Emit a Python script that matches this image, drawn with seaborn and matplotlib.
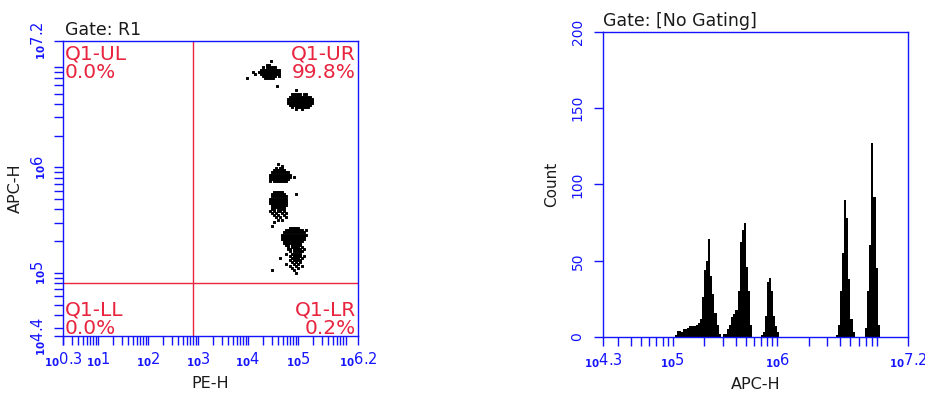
import numpy as np
import pandas as pd
import seaborn as sns
import matplotlib
matplotlib.use("Agg")
import matplotlib.pyplot as plt
from matplotlib.ticker import FixedLocator, FixedFormatter, LogLocator, NullFormatter

sns.set_theme(style="white")
plt.rcParams["font.family"] = ["DejaVu Sans"]
plt.rcParams["mathtext.fontset"] = "dejavusans"

BLUE = "#1414ff"
RED = "#e8243f"
TXT = "#1a1a1a"

# ---------------- axis data ----------------
pe_limits_log = (0.3, 6.2)
apc_limits_log = (4.4, 7.2)
hist_limits_log = (4.337, 7.247)

pe_tick_logs = [0.3, 1, 2, 3, 4, 5, 6.2]
pe_tick_labels = ["0.3", "1", "2", "3", "4", "5", "6.2"]
apc_tick_logs = [4.4, 5, 6, 7.2]
apc_tick_labels = ["4.4", "5", "6", "7.2"]
hist_tick_logs = [4.337, 5, 6, 7.247]
hist_tick_labels = ["4.3", "5", "6", "7.2"]
count_ticks = [0, 50, 100, 150, 200]

# ---------------- quadrant gate ----------------
gate_pe_log = 2.9
gate_apc_log = 4.9
quadrant_names = ["Q1-UL", "Q1-UR", "Q1-LL", "Q1-LR"]
quadrant_percents = ["0.0%", "99.8%", "0.0%", "0.2%"]

# ---------------- dot-plot events (each '#' = one event) ----------------
# columns step 0.04 decades of PE-H, rows step 0.02 decades of APC-H downward
cell_pe = 0.04
cell_apc = 0.02

cluster1_origin = (3.98, 7.009)
cluster1_map = [
    "............#....",
    ".................",
    "..........##.....",
    "........#.#####..",
    ".......##########",
    "...#..###########",
    "....#..##########",
    "........#######.#",
    "#........#####...",
    ".................",
    ".................",
    ".................",
    "...............#.",
]

cluster2_origin = (4.76, 6.753)
cluster2_map = [
    "..............",
    ".....#........",
    "..............",
    "...#####.##...",
    "..###########.",
    ".#############",
    ".#############",
    ".#############",
    "..###########.",
    "...#.#######..",
    ".....#..#.....",
]

cluster3_origin = (4.40, 6.032)
cluster3_map = [
    ".....#........",
    ".......#......",
    "....#.##......",
    "...######.....",
    "..#########...",
    ".###########..",
    ".###########.#",
    ".##########...",
    ".#.#######....",
]

cluster4_origin = (4.40, 5.785)
cluster4_map = [
    "...............",
    "...#####.......",
    "..#######.....#",
    "..########.....",
    ".#########.....",
    ".#########.....",
    ".#########.....",
    "..########.....",
    "..#######......",
    "..##.####......",
    ".#.#.##.#......",
    "..#.#..#.#.....",
    "...#.#..#......",
    "....#.#..#.....",
    ".....#.#.......",
    "...#...........",
    "...............",
    "..#............",
]

cluster5_origin = (4.40, 5.4626)
cluster5_map = [
    ".....................",
    ".....................",
    "...........#####.....",
    ".........#########.#.",
    "........###########..",
    ".......#############.",
    ".......############..",
    ".......############..",
    "........##########...",
    "........#########....",
    ".........##.#####....",
    "..........#.####.#...",
    "..........##.####.#..",
    "...........#.#####...",
    ".........#..#####....",
    "...........#.####.#..",
    "......#.....####.#...",
    "...........#.####....",
    "............#.#.#....",
    ".........#...#.#.....",
    "...........#..#..#...",
    "............#..#.....",
    "..#..........#.......",
    "..............#......",
]

clusters = [
    (cluster1_origin, cluster1_map),
    (cluster2_origin, cluster2_map),
    (cluster3_origin, cluster3_map),
    (cluster4_origin, cluster4_map),
    (cluster5_origin, cluster5_map),
]

# ---------------- APC-H histogram (counts per 0.02-decade bin) ----------------
hist_bin_start_log = 4.34
hist_bin_end_log = 7.24
hist_bin_width_log = 0.02
peak1_start_log = 5.02
peak1_counts = [1, 4, 4, 3, 5, 5, 6, 7, 7, 7, 8, 9, 12, 26, 44, 50, 64, 40, 28, 16, 8, 2]
peak2_start_log = 5.48
peak2_counts = [2, 2, 5, 8, 13, 15, 18, 30, 62, 70, 75, 46, 30, 8]
peak3_start_log = 5.84
peak3_counts = [1, 3, 14, 36, 39, 30, 14, 7, 3]
peak4_start_log = 6.56
peak4_counts = [1, 8, 30, 55, 90, 78, 38, 12, 3]
peak5_start_log = 6.84
peak5_counts = [6, 30, 60, 127, 92, 45, 8]
peaks = [
    (peak1_start_log, peak1_counts),
    (peak2_start_log, peak2_counts),
    (peak3_start_log, peak3_counts),
    (peak4_start_log, peak4_counts),
    (peak5_start_log, peak5_counts),
]

# ---------------- build tables ----------------
pe_vals, apc_vals = [], []
for (ox, oy), rows in clusters:
    for r, row in enumerate(rows):
        for c, ch in enumerate(row):
            if ch == "#":
                pe_vals.append(10 ** (ox + c * cell_pe))
                apc_vals.append(10 ** (oy - r * cell_apc))
events = pd.DataFrame({"PE-H": pe_vals, "APC-H": apc_vals})

h_x, h_w = [], []
for start, counts in peaks:
    for i, cnt in enumerate(counts):
        h_x.append(10 ** (start + (i + 0.5) * hist_bin_width_log))
        h_w.append(cnt)
hist_df = pd.DataFrame({"APC-H": h_x, "Count": h_w})

# ---------------- figure ----------------
fig = plt.figure(figsize=(9.25, 3.94), dpi=100)
ax1 = fig.add_axes([63 / 925, 1 - 336 / 394, 295 / 925, 295 / 394])
ax2 = fig.add_axes([603.3 / 925, 1 - 337 / 394, 304.4 / 925, 305 / 394])

sns.scatterplot(data=events, x="PE-H", y="APC-H", ax=ax1, marker="s", s=4.4,
                color="black", linewidth=0, legend=False, snap=False)
ax1.set_xscale("log")
ax1.set_yscale("log")
ax1.set_xlim(10 ** pe_limits_log[0], 10 ** pe_limits_log[1])
ax1.set_ylim(10 ** apc_limits_log[0], 10 ** apc_limits_log[1])

sns.histplot(data=hist_df, x="APC-H", weights="Count", log_scale=True,
             binwidth=hist_bin_width_log,
             binrange=(hist_bin_start_log, hist_bin_end_log),
             color="black", alpha=1, linewidth=0, element="bars", ax=ax2)
ax2.set_xlim(10 ** hist_limits_log[0], 10 ** hist_limits_log[1])
ax2.set_ylim(count_ticks[0], count_ticks[-1])


def sub10(e):
    return r"$_{\mathbf{10}}$" + e


for ax in (ax1, ax2):
    ax.set_facecolor("white")
    for sp in ax.spines.values():
        sp.set_color(BLUE)
        sp.set_linewidth(1.0)
    ax.tick_params(which="both", direction="out", color=BLUE, labelcolor=BLUE,
                   width=1, length=6.5, bottom=True, left=True, top=False,
                   right=False, labelsize=10.5)
    ax.xaxis.set_minor_locator(LogLocator(base=10, subs=np.arange(2, 10), numticks=100))
    ax.xaxis.set_minor_formatter(NullFormatter())

# left plot ticks
ax1.xaxis.set_major_locator(FixedLocator([10 ** v for v in pe_tick_logs]))
ax1.xaxis.set_major_formatter(FixedFormatter([sub10(t) for t in pe_tick_labels]))
ax1.yaxis.set_major_locator(FixedLocator([10 ** v for v in apc_tick_logs]))
ax1.yaxis.set_major_formatter(FixedFormatter([sub10(t) for t in apc_tick_labels]))
ax1.yaxis.set_minor_locator(LogLocator(base=10, subs=np.arange(2, 10), numticks=100))
ax1.yaxis.set_minor_formatter(NullFormatter())
ax1.tick_params(axis="y", which="both", pad=4)

# right plot ticks
ax2.xaxis.set_major_locator(FixedLocator([10 ** v for v in hist_tick_logs]))
ax2.xaxis.set_major_formatter(FixedFormatter([sub10(t) for t in hist_tick_labels]))
ax2.yaxis.set_major_locator(FixedLocator(count_ticks))
ax2.yaxis.set_major_formatter(FixedFormatter([str(v) for v in count_ticks]))
ax2.tick_params(axis="y", pad=7, labelsize=10)

for ax in (ax1, ax2):
    for lbl in ax.get_yticklabels():
        lbl.set_rotation(90)
        lbl.set_verticalalignment("center")

# gate lines
ax1.axvline(10 ** gate_pe_log, color=RED, lw=1.0)
ax1.axhline(10 ** gate_apc_log, color=RED, lw=1.0)

# quadrant labels
qfs = 14.5
spec = [((0, 1), (2, -18), (2, -37), "left"),
        ((1, 1), (-2, -18), (-2, -37), "right"),
        ((0, 0), (2, 21), (2, 2), "left"),
        ((1, 0), (-2, 21), (-2, 2), "right")]
for (xy, off1, off2, ha), name, pct in zip(spec, quadrant_names, quadrant_percents):
    ax1.annotate(name, xy=xy, xycoords="axes fraction", xytext=off1,
                 textcoords="offset pixels", ha=ha, va="baseline",
                 color=RED, fontsize=qfs)
    ax1.annotate(pct, xy=xy, xycoords="axes fraction", xytext=off2,
                 textcoords="offset pixels", ha=ha, va="baseline",
                 color=RED, fontsize=qfs)

# titles
ax1.annotate("Gate: R1", xy=(0, 1), xycoords="axes fraction", xytext=(2, 6),
             textcoords="offset pixels", ha="left", va="baseline",
             fontsize=12.5, color=TXT)
ax2.annotate("Gate: [No Gating]", xy=(0, 1), xycoords="axes fraction", xytext=(0, 6),
             textcoords="offset pixels", ha="left", va="baseline",
             fontsize=12.5, color=TXT)

# axis labels
ax1.set_xlabel("PE-H", fontsize=11.5, color=TXT, labelpad=5)
ax1.set_ylabel("APC-H", fontsize=11.5, color=TXT, labelpad=5)
ax2.set_xlabel("APC-H", fontsize=11.5, color=TXT, labelpad=5)
ax2.set_ylabel("Count", fontsize=11, color=TXT, labelpad=8)

fig.savefig("out.png", dpi=100)
